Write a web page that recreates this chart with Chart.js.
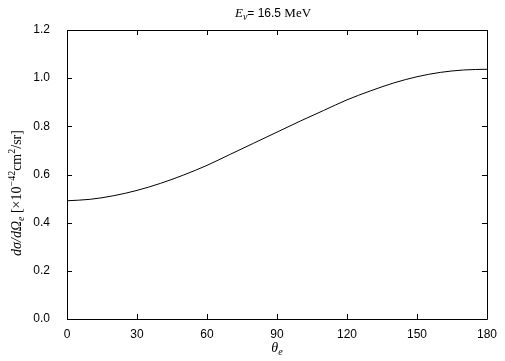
<!DOCTYPE html>
<html>
<head>
<meta charset="utf-8">
<script src="https://cdn.jsdelivr.net/npm/chart.js@4"></script>
<style>
  html, body { margin: 0; padding: 0; background: #fff; }
  #wrap { width: 505px; height: 361px; }
</style>
</head>
<body>
<div id="wrap"><canvas id="xsec"></canvas></div>
<script>
// angle theta_e (deg) and cross section values
const angles = [0, 10, 20, 30, 40, 50, 60, 70, 80, 90, 100, 110, 120, 130, 140, 150, 160, 170, 180];
const dsigma = [0.491, 0.497, 0.512, 0.534, 0.563, 0.598, 0.638, 0.684, 0.730, 0.776,
                0.822, 0.866, 0.910, 0.947, 0.980, 1.006, 1.024, 1.034, 1.037];
const xTicks = [0, 30, 60, 90, 120, 150, 180];
const yTicks = [0, 0.2, 0.4, 0.6, 0.8, 1.0, 1.2];

const points = angles.map((a, i) => ({ x: a, y: dsigma[i] }));

// frame with inward ticks on all four sides, plus the math-style labels
const frameAndLabels = {
  id: 'frameAndLabels',
  afterDraw(chart) {
    const ctx = chart.ctx;
    const a = chart.chartArea;
    const xs = chart.scales.x, ys = chart.scales.y;
    const tl = 5;
    ctx.save();
    ctx.strokeStyle = '#000';
    ctx.lineWidth = 1;
    ctx.beginPath();
    ctx.rect(Math.round(a.left) + 0.5, Math.round(a.top) + 0.5,
             Math.round(a.right - a.left), Math.round(a.bottom - a.top));
    xTicks.forEach(v => {
      const px = Math.round(xs.getPixelForValue(v)) + 0.5;
      ctx.moveTo(px, a.bottom); ctx.lineTo(px, a.bottom - tl);
      ctx.moveTo(px, a.top); ctx.lineTo(px, a.top + tl);
    });
    yTicks.forEach(v => {
      const py = Math.round(ys.getPixelForValue(v)) + 0.5;
      ctx.moveTo(a.left, py); ctx.lineTo(a.left + tl, py);
      ctx.moveTo(a.right, py); ctx.lineTo(a.right - tl, py);
    });
    ctx.stroke();

    ctx.fillStyle = '#000';
    ctx.textBaseline = 'alphabetic';

    // title: E_nu= 16.5 MeV
    drawRow(ctx, [
      { t: 'E', f: 'italic 13px "Liberation Serif"', dy: 0 },
      { t: 'ν', f: 'italic 10px "Liberation Serif"', dy: 3 },
      { t: '= 16.5 ', f: '12px "Liberation Sans"', dy: 0 },
      { t: 'MeV', f: '13px "Liberation Serif"', dy: 0 }
    ], (a.left + a.right) / 2 - 4, 17);

    // x label theta_e
    drawRow(ctx, [
      { t: 'θ', f: 'italic 14px "Liberation Serif"', dy: 0 },
      { t: 'e', f: 'italic 10px "Liberation Serif"', dy: 3 }
    ], (a.left + a.right) / 2, 352);

    // y label
    ctx.translate(21, 193);
    ctx.rotate(-Math.PI / 2);
    drawRow(ctx, [
      { t: 'dσ/dΩ', f: 'italic 14px "Liberation Serif"', dy: 0 },
      { t: 'e', f: 'italic 10px "Liberation Serif"', dy: 3 },
      { t: ' [×10', f: '14px "Liberation Serif"', dy: 0 },
      { t: '−42', f: '10px "Liberation Serif"', dy: -6 },
      { t: 'cm', f: '14px "Liberation Serif"', dy: 0 },
      { t: '2', f: '10px "Liberation Serif"', dy: -6 },
      { t: '/sr]', f: '14px "Liberation Serif"', dy: 0 }
    ], 0, 0);
    ctx.restore();
  }
};

function drawRow(ctx, parts, cx, y) {
  let w = 0;
  parts.forEach(p => { ctx.font = p.f; w += ctx.measureText(p.t).width; });
  let x = cx - w / 2;
  parts.forEach(p => {
    ctx.font = p.f;
    ctx.fillText(p.t, x, y + p.dy);
    x += ctx.measureText(p.t).width;
  });
}

new Chart('xsec', {
  type: 'line',
  data: {
    datasets: [{
      data: points,
      borderColor: '#000',
      borderWidth: 1,
      pointRadius: 0,
      fill: false,
      cubicInterpolationMode: 'monotone'
    }]
  },
  options: {
    responsive: true,
    maintainAspectRatio: false,
    animation: false,
    layout: { padding: { top: 30, right: 18, left: 0, bottom: 0 } },
    plugins: { legend: { display: false }, tooltip: { enabled: false }, title: { display: false } },
    scales: {
      x: {
        type: 'linear', min: 0, max: 180,
        grid: { display: false }, border: { display: false },
        afterBuildTicks: s => { s.ticks = xTicks.map(v => ({ value: v })); },
        afterFit: s => { s.height = 42; },
        ticks: { color: '#000', padding: 0, maxRotation: 0,
                 font: { family: '"Liberation Sans"', size: 12 } }
      },
      y: {
        min: 0, max: 1.2,
        grid: { display: false }, border: { display: false },
        afterBuildTicks: s => { s.ticks = yTicks.map(v => ({ value: v })); },
        afterFit: s => { s.width = 67; },
        ticks: { color: '#000', padding: 9,
                 callback: v => v.toFixed(1),
                 font: { family: '"Liberation Sans"', size: 12 } }
      }
    }
  },
  plugins: [frameAndLabels]
});
</script>
</body>
</html>
